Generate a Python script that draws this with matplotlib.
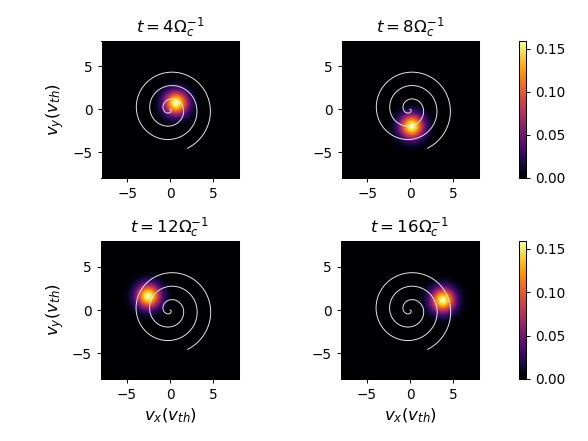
"""
Gyrating Maxwellian in velocity space at four times, with the spiral
orbit drawn over each panel.
"""

import matplotlib

matplotlib.use("Agg")
import matplotlib.pyplot as plt
import numpy as np

# panel times (units of 1/Omega_c)
TIMES = [4, 8, 12, 16]
# blob (drift) centres, v_th units
CENTER_VX = [0.65, 0.15, -2.53, 3.83]
CENTER_VY = [0.76, -1.98, 1.61, 1.15]
SIGMA = 1.0  # thermal width, v_th

# spiral overlay: r = GROWTH * psi, drawn clockwise out to PSI_END radians
SPIRAL_GROWTH = 0.25
SPIRAL_PSI_END = 20.0

TICKS = [-5, 0, 5]
CB_TICKS = [0, 0.05, 0.10, 0.15]
VMAX = 8

W, H = 588, 441
# (left, top, width, height) in pixels
AX_BOXES = [(101, 40.7, 138, 137), (341, 40.7, 138, 137),
            (101, 241, 138, 138), (341, 241, 138, 138)]
CB_BOXES = [(519, 40.7, 6.7, 137), (519, 241, 6.7, 138)]


def _rect(box):
    l, t, w, h = box
    return [l / W, 1 - (t + h) / H, w / W, h / H]


def main() -> None:
    plt.rcParams["xtick.labelsize"] = 10.7
    plt.rcParams["ytick.labelsize"] = 10.7
    fig = plt.figure(figsize=(6.4, 4.8), dpi=91.875)
    fig.patch.set_facecolor("white")

    v = np.linspace(-VMAX, VMAX, 241)
    vx, vy = np.meshgrid(v, v)

    psi = np.linspace(0, SPIRAL_PSI_END, 1200)
    sx = SPIRAL_GROWTH * psi * np.cos(psi)
    sy = -SPIRAL_GROWTH * psi * np.sin(psi)

    ims = []
    for i, t in enumerate(TIMES):
        ax = fig.add_axes(_rect(AX_BOXES[i]))
        f = np.exp(-((vx - CENTER_VX[i]) ** 2 + (vy - CENTER_VY[i]) ** 2)
                   / (2 * SIGMA ** 2)) / (2 * np.pi * SIGMA ** 2)
        im = ax.imshow(f, cmap="inferno", origin="lower",
                       extent=[-VMAX, VMAX, -VMAX, VMAX], vmin=0, vmax=f.max())
        ims.append(im)
        ax.plot(sx, sy, color="#e8e8e8", lw=0.75)
        ax.set_xlim(-VMAX, VMAX)
        ax.set_ylim(-VMAX, VMAX)
        ax.set_xticks(TICKS)
        ax.set_yticks(TICKS)
        ax.set_title(rf"$t = {t}\Omega_c^{{-1}}$", fontsize=13)
        if i % 2 == 0:
            ax.set_ylabel(r"$v_y(v_{th})$", fontsize=13)
        if i >= 2:
            ax.set_xlabel(r"$v_x(v_{th})$", fontsize=13)

    for row, box in enumerate(CB_BOXES):
        cax = fig.add_axes(_rect(box))
        fig.colorbar(ims[2 * row + 1], cax=cax, ticks=CB_TICKS, format="%.2f")

    fig.savefig("out.png", dpi=91.875)
    plt.close(fig)


if __name__ == "__main__":
    main()
